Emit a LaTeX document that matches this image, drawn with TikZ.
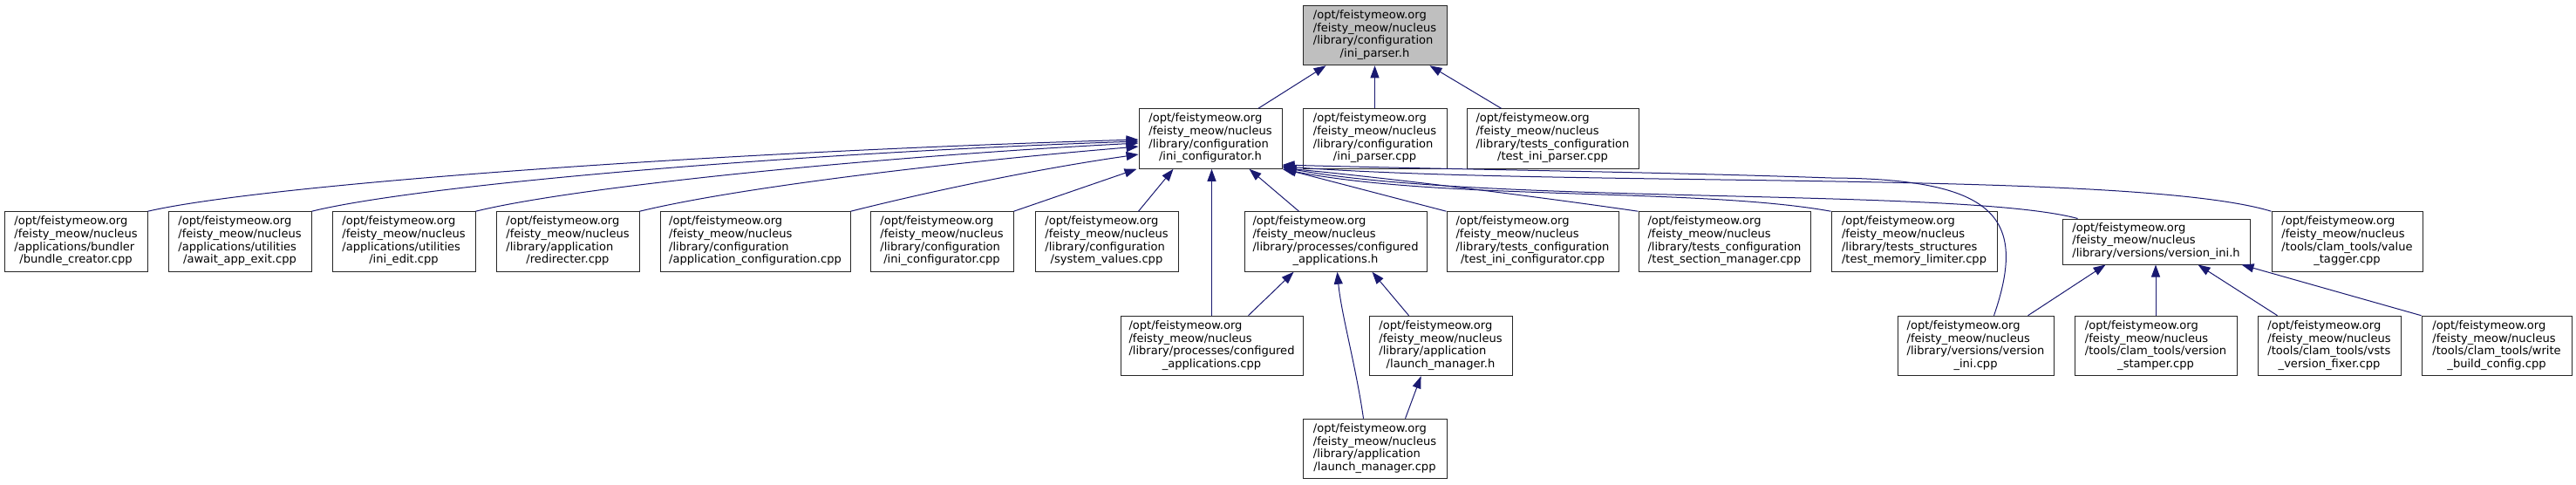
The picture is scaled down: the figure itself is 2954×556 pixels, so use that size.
\documentclass[tikz,border=0pt]{standalone}
\usepackage{fontspec}
\setmainfont{DejaVu Sans}
\usetikzlibrary{arrows.meta,calc}
\definecolor{edgeblue}{RGB}{25,25,112}
\definecolor{rootfill}{RGB}{191,191,191}
\newcommand{\fourl}[4]{\begin{tabular}{@{}l@{}}#1\\#2\\#3\\\multicolumn{1}{@{}c@{}}{#4}\end{tabular}}
\newcommand{\fm}[2]{\fourl{/opt/feistymeow.org}{/feisty\_meow/nucleus}{#1}{#2}}
\begin{document}
\begin{tikzpicture}[x=0.75pt,y=-0.75pt,
  box/.style={draw=black!85, line width=0.75pt, fill=white, inner sep=0pt,
    minimum height=51.4pt, font=\fontsize{9.8}{11}\selectfont},
  bw/.style={minimum width=#1*0.75pt},
  edge/.style={draw=edgeblue, line width=0.75pt, -{Triangle[length=10.5pt,width=7.5pt]}}]
\useasboundingbox (0,0) rectangle (2954,556);
% row 1
\node[box,bw=165,fill=rootfill] (ip) at (1576.5,40.5) {\fm{/library/configuration}{/ini\_parser.h}};
% row 2
\node[box,bw=164] (ic) at (1388,159) {\fm{/library/configuration}{/ini\_configurator.h}};
\node[box,bw=165] (ipc) at (1576.5,159) {\fm{/library/configuration}{/ini\_parser.cpp}};
\node[box,bw=197] (tip) at (1780.5,159) {\fm{/library/tests\_configuration}{/test\_ini\_parser.cpp}};
% row 3
\node[box,bw=164] (bc) at (87,277) {\fm{/applications/bundler}{/bundle\_creator.cpp}};
\node[box,bw=164] (aae) at (275,277) {\fm{/applications/utilities}{/await\_app\_exit.cpp}};
\node[box,bw=164] (ie) at (463,277) {\fm{/applications/utilities}{/ini\_edit.cpp}};
\node[box,bw=164] (red) at (651,277) {\fm{/library/application}{/redirecter.cpp}};
\node[box,bw=218] (ac) at (866,277) {\fm{/library/configuration}{/application\_configuration.cpp}};
\node[box,bw=164] (icc) at (1080,277) {\fm{/library/configuration}{/ini\_configurator.cpp}};
\node[box,bw=164] (sv) at (1269,277) {\fm{/library/configuration}{/system\_values.cpp}};
\node[box,bw=209] (cah) at (1531.5,277) {\fm{/library/processes/configured}{\_applications.h}};
\node[box,bw=197] (tic) at (1757.5,277) {\fm{/library/tests\_configuration}{/test\_ini\_configurator.cpp}};
\node[box,bw=197] (tsm) at (1977.5,277) {\fm{/library/tests\_configuration}{/test\_section\_manager.cpp}};
\node[box,bw=190] (tml) at (2195,277) {\fm{/library/tests\_structures}{/test\_memory\_limiter.cpp}};
\node[box,bw=215,minimum height=39pt] (vh) at (2472.5,277) {\begin{tabular}{@{}l@{}}/opt/feistymeow.org\\/feisty\_meow/nucleus\\/library/versions/version\_ini.h\end{tabular}};
\node[box,bw=173] (vt) at (2691.5,277) {\fm{/tools/clam\_tools/value}{\_tagger.cpp}};
% row 4
\node[box,bw=209] (cac) at (1389.5,396.5) {\fm{/library/processes/configured}{\_applications.cpp}};
\node[box,bw=164] (lmh) at (1652,396.5) {\fm{/library/application}{/launch\_manager.h}};
\node[box,bw=179] (vic) at (2265.5,396.5) {\fm{/library/versions/version}{\_ini.cpp}};
\node[box,bw=186] (vs) at (2472,396.5) {\fm{/tools/clam\_tools/version}{\_stamper.cpp}};
\node[box,bw=164] (vvf) at (2671,396.5) {\fm{/tools/clam\_tools/vsts}{\_version\_fixer.cpp}};
\node[box,bw=172] (wbc) at (2863,396.5) {\fm{/tools/clam\_tools/write}{\_build\_config.cpp}};
% row 5
\node[box,bw=165] (lmc) at (1576.5,514.5) {\fm{/library/application}{/launch\_manager.cpp}};
% edges to ini_parser.h
\draw[edge] ($(ic.north)+(55,0)$) -- ($(ip.south west)+(27,0)$);
\draw[edge] (ipc.north) -- (ipc.north |- ip.south);
\draw[edge] ($(tip.north west)+(40,0)$) -- ($(ip.south east)+(-20,0)$);
% edges to ini_configurator.h from the left
\draw[edge] (bc.north east) .. controls (300,212) and (800,175) .. ($(ic.west)+(0,1)$);
\draw[edge] (aae.north east) .. controls (480,212) and (900,176) .. ($(ic.west)+(0,3)$);
\draw[edge] (ie.north east) .. controls (660,214) and (1000,180) .. ($(ic.west)+(0,5)$);
\draw[edge] (red.north east) .. controls (850,214) and (1100,185) .. ($(ic.west)+(0,9)$);
\draw[edge] (ac.north east) .. controls (1080,216) and (1200,192) .. ($(ic.west)+(0,18)$);
\draw[edge] (icc.north east) -- ($(ic.south west)+(-2,0)$);
\draw[edge] ($(sv.north east)+(-46,0)$) -- ($(ic.south west)+(40,0)$);
\draw[edge] (cac.north) -- (cac.north |- ic.south);
% edges to ini_configurator.h from the right
\draw[edge] ($(cah.north west)+(63,0)$) -- ($(ic.south east)+(-38,0)$);
\draw[edge] (tic.north west) -- ($(ic.south east)+(2,0)$);
\draw[edge] (tsm.north west) .. controls (1760,225) and (1600,205) .. ($(ic.south east)+(2,-1)$);
\draw[edge] (tml.north west) .. controls (1950,215) and (1650,230) .. (ic.south east);
\draw[edge] ($(vh.north west)+(18,0)$) .. controls (2250,215) and (1700,235) .. ($(ic.south east)+(0,-2)$);
\draw[edge] (vt.north west) .. controls (2450,195) and (1800,215) .. ($(ic.south east)+(0,-3)$);
\draw[edge] ($(vic.north)+(21,0)$) .. controls (2325,250) and (2290,205) .. (2100,204) .. controls (1900,197) and (1650,194) .. ($(ic.east)+(0,30)$);
% edges to configured_applications.h
\draw[edge] ($(cac.north)+(42,0)$) -- ($(cah.south west)+(57,0)$);
\draw[edge] ($(lmc.north west)+(70,0)$) .. controls (1555,420) and (1538,360) .. ($(cah.south)+(2,0)$);
\draw[edge] ($(lmh.north west)+(46,0)$) -- ($(cah.south)+(42,0)$);
% edge to launch_manager.h
\draw[edge] ($(lmc.north west)+(118,0)$) -- ($(lmh.south west)+(60,0)$);
% edges to version_ini.h
\draw[edge] ($(vic.north east)+(-30,0)$) -- ($(vh.south west)+(50,0)$);
\draw[edge] (vs.north) -- (vs.north |- vh.south);
\draw[edge] ($(vvf.north west)+(23,0)$) -- ($(vh.south east)+(-60,0)$);
\draw[edge] (wbc.north west) -- ($(vh.south east)+(-10,0)$);
\end{tikzpicture}
\end{document}
